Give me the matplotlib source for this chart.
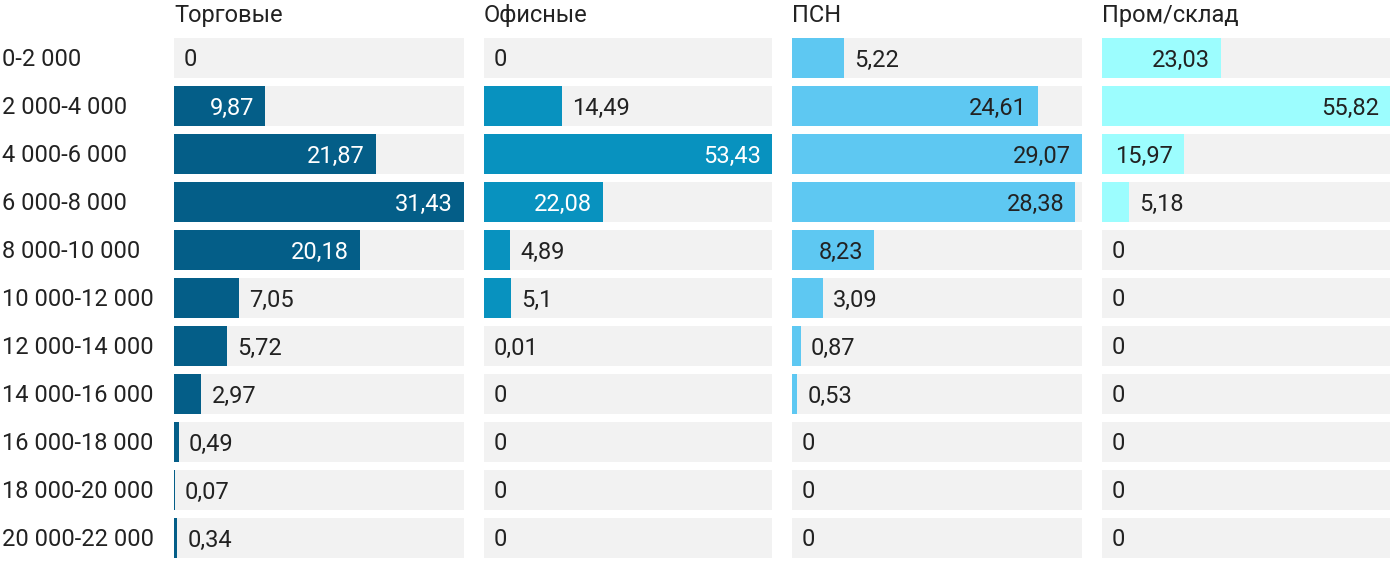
import matplotlib
matplotlib.use("Agg")
import matplotlib.pyplot as plt
from matplotlib.transforms import offset_copy

plt.rcParams['font.family'] = ['Roboto', 'DejaVu Sans']

ranges = ["0-2 000", "2 000-4 000", "4 000-6 000", "6 000-8 000", "8 000-10 000",
          "10 000-12 000", "12 000-14 000", "14 000-16 000", "16 000-18 000",
          "18 000-20 000", "20 000-22 000"]
titles = ["Торговые", "Офисные", "ПСН", "Пром/склад"]
trade = [0, 9.87, 21.87, 31.43, 20.18, 7.05, 5.72, 2.97, 0.49, 0.07, 0.34]
office = [0, 14.49, 53.43, 22.08, 4.89, 5.1, 0.01, 0, 0, 0, 0]
psn = [5.22, 24.61, 29.07, 28.38, 8.23, 3.09, 0.87, 0.53, 0, 0, 0]
indust = [23.03, 55.82, 15.97, 5.18, 0, 0, 0, 0, 0, 0, 0]
series = [trade, office, psn, indust]
colors = ["#045e88", "#0892bf", "#5ec8f2", "#9cfdfe"]
inside_text = ["white", "white", "#222222", "#222222"]

W, H = 1400, 574
fig = plt.figure(figsize=(W / 100, H / 100), dpi=100)
lefts = [174, 484, 792, 1102]
widths = [290, 288, 290, 288]
top, bottom = 38, 558
n = len(ranges)
bh = 40 / 48
fs = 17
dy = -2  # nudge text down a little

for k, (vals, title) in enumerate(zip(series, titles)):
    ax = fig.add_axes([lefts[k] / W, (H - bottom) / H, widths[k] / W, (bottom - top) / H])
    vmax = max(vals)
    ax.set_xlim(0, vmax)
    ax.set_ylim(n - 1 + bh / 2, -bh / 2)
    ax.axis("off")
    ys = range(n)
    ax.barh(ys, [vmax] * n, height=bh, color="#f2f2f2", linewidth=0)
    ax.barh(ys, vals, height=bh, color=colors[k], linewidth=0)
    t_out = offset_copy(ax.transData, fig=fig, x=10, y=dy, units="dots")
    t_in = offset_copy(ax.transData, fig=fig, x=-11, y=dy, units="dots")
    for y, v in zip(ys, vals):
        lab = f"{v:g}".replace(".", ",")
        if v / vmax > 0.275:
            ax.text(v, y, lab, transform=t_in, ha="right", va="center",
                    fontsize=fs, color=inside_text[k])
        else:
            ax.text(v, y, lab, transform=t_out, ha="left", va="center",
                    fontsize=fs, color="#222222")
    t_title = offset_copy(ax.transData, fig=fig, x=0, y=dy, units="dots")
    ax.text(0, -0.92, title, transform=t_title, ha="left", va="center",
            fontsize=fs, color="#222222")
    if k == 0:
        t_lab = offset_copy(ax.transData, fig=fig, x=-172, y=dy, units="dots")
        for y, r in zip(ys, ranges):
            ax.text(0, y, r, transform=t_lab, ha="left", va="center",
                    fontsize=fs, color="#222222")

fig.savefig("out.png", dpi=100)
